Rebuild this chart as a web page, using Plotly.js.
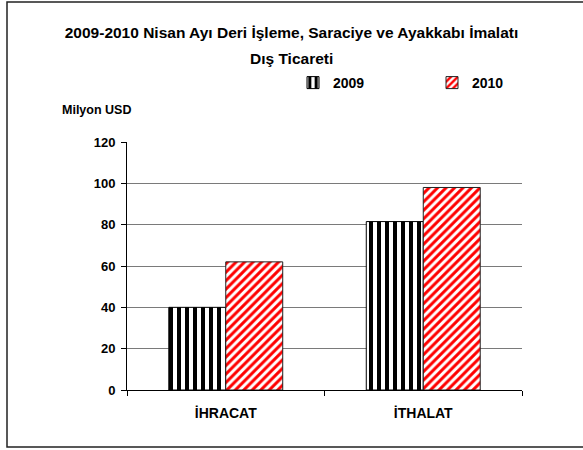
<!DOCTYPE html>
<html><head><meta charset="utf-8">
<script src="https://cdn.plot.ly/plotly-3.0.1.min.js"></script>
<style>body{margin:0;padding:0;background:#fff}#chart{width:583px;height:450px}</style>
</head><body><div id="chart"></div>
<script>
const categories = ["İHRACAT", "İTHALAT"];
const values2009 = [40, 81.5];
const values2010 = [62, 98];
const seriesNames = ["2009", "2010"];
const tickVals = [0, 20, 40, 60, 80, 100, 120];
const titleLine1 = "2009-2010 Nisan Ayı Deri İşleme, Saraciye ve Ayakkabı İmalatı";
const titleLine2 = "Dış Ticareti";
const yUnit = "Milyon USD";

const traces = [
  {type:'bar', name:seriesNames[0], x:categories, y:values2009,
   marker:{color:'white', line:{color:'#000', width:1},
     pattern:{shape:'|', fgcolor:'#000', bgcolor:'#fff', size:8, solidity:0.5}}},
  {type:'bar', name:seriesNames[1], x:categories, y:values2010,
   marker:{color:'white', line:{color:'#222', width:1},
     pattern:{shape:'/', fgcolor:'#ff0000', bgcolor:'#fff', size:6, solidity:0.5}}}
];
const layout = {
  width:583, height:450,
  font:{family:'"Liberation Sans", Arial, sans-serif', size:12, color:'#000'},
  paper_bgcolor:'#fff', plot_bgcolor:'#fff',
  margin:{l:127, r:61, t:142, b:60},
  title:{text:'<b>'+titleLine1+'</b>', x:0.5, xanchor:'center', xref:'container',
    yref:'container', y:1-33/450, yanchor:'middle', font:{size:15.5}},
  bargap:0.423, bargroupgap:0,
  xaxis:{showline:true, linecolor:'#000', linewidth:1, ticks:'outside', tickson:'boundaries',
    ticklen:5, tickcolor:'#000', showgrid:false,
    tickfont:{size:14, weight:'bold'}, ticklabelstandoff:10},
  yaxis:{range:[0,120], tickvals:tickVals, showgrid:true, gridcolor:'#7a7a7a', gridwidth:1,
    showline:true, linecolor:'#000', linewidth:1, ticks:'outside', ticklen:5, tickcolor:'#000',
    tickfont:{size:13, weight:'bold'}, zeroline:false, ticklabelstandoff:3},
  legend:{orientation:'h', x:(293-127)/395, y:(390-83)/248, xanchor:'left', yanchor:'middle',
    font:{size:14, weight:'bold'}, traceorder:'normal', entrywidth:94, entrywidthmode:'pixels'},
  annotations:[
    {text:'<b>'+titleLine2+'</b>', xref:'paper', yref:'paper', x:(291.5-127)/395, y:(390-58)/248,
     xanchor:'center', yanchor:'middle', showarrow:false, font:{size:15.5}},
    {text:'<b>'+yUnit+'</b>', xref:'paper', yref:'paper', x:(60-127)/395, y:(390-110)/248,
     xanchor:'left', yanchor:'middle', showarrow:false, font:{size:12.5}}],
  shapes:[{type:'rect', xref:'paper', yref:'paper', x0:(7-127)/395, x1:(595-127)/395,
    y0:(390-447)/248, y1:(390-2)/248, line:{color:'#222', width:1.5}}]
};
Plotly.newPlot('chart', traces, layout, {displayModeBar:false});
</script></body></html>
